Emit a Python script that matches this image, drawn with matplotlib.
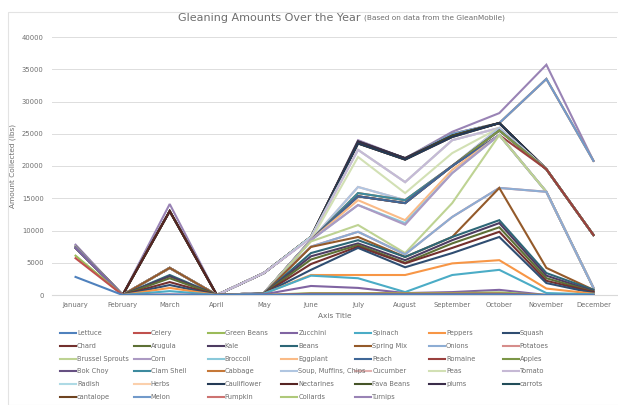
import numpy as np
import matplotlib
matplotlib.use("Agg")
import matplotlib.pyplot as plt
from matplotlib.colors import to_rgb
from matplotlib.lines import Line2D
from matplotlib.patches import Rectangle

months = ["January", "February", "March", "April", "May", "June", "July",
          "August", "September", "October", "November", "December"]

produce = ["Lettuce", "Celery", "Green Beans", "Zucchini", "Spinach", "Peppers", "Squash",
           "Chard", "Arugula", "Kale", "Beans", "Spring Mix", "Onions", "Potatoes",
           "Brussel Sprouts", "Corn", "Broccoli", "Eggplant", "Peach", "Romaine", "Apples",
           "Bok Choy", "Clam Shell", "Cabbage", "Soup, Muffins, Chips", "Cucumber", "Peas", "Tomato",
           "Radish", "Herbs", "Cauliflower", "Nectarines", "Fava Beans", "plums", "carrots",
           "cantalope", "Melon", "Pumpkin", "Collards", "Turnips"]

# stacked line values as plotted (lbs), one row per produce, Jan..Dec
stacked = [
    [2800, 0, 0, 0, 0, 100, 100, 100, 100, 100, 0, 0],
    [5700, 0, 0, 0, 0, 200, 200, 200, 200, 200, 0, 0],
    [6100, 0, 0, 0, 0, 300, 300, 300, 300, 400, 0, 0],
    [7300, 0, 100, 0, 100, 1400, 1100, 300, 450, 800, 0, 0],
    [7300, 0, 600, 0, 200, 3000, 2600, 450, 3100, 3900, 300, 100],
    [7300, 0, 1100, 0, 200, 3100, 3100, 3100, 4900, 5400, 1000, 200],
    [7300, 0, 1550, 0, 200, 3900, 7300, 4300, 6500, 9000, 1850, 300],
    [7300, 0, 2000, 0, 200, 4800, 7500, 4900, 7300, 9800, 2200, 450],
    [7300, 0, 2600, 0, 200, 5500, 7750, 5000, 8000, 10500, 2600, 500],
    [7300, 0, 2900, 0, 200, 6000, 8000, 5400, 8500, 11150, 3000, 600],
    [7300, 0, 3100, 0, 200, 6500, 8500, 5900, 9000, 11600, 3400, 800],
    [7300, 0, 4200, 0, 200, 7450, 9000, 5900, 9000, 16600, 4200, 800],
    [7300, 0, 4200, 0, 300, 7500, 9800, 6300, 12100, 16600, 16000, 1100],
    [7300, 0, 4200, 0, 300, 7500, 9800, 6300, 12100, 16600, 16000, 1100],
    [7300, 0, 4200, 0, 300, 8300, 10850, 6500, 14250, 24800, 16000, 1100],
    [7400, 0, 4200, 0, 300, 8500, 13950, 10900, 18900, 24800, 16000, 1100],
    [7400, 0, 4200, 0, 300, 8500, 13950, 11150, 18900, 24800, 16000, 1100],
    [7400, 0, 4200, 0, 300, 8500, 14700, 11600, 19400, 24800, 16000, 1100],
    [7400, 0, 4200, 0, 300, 8500, 15300, 14250, 20000, 24800, 16000, 1100],
    [7400, 0, 4200, 0, 300, 8500, 15300, 14250, 20000, 24800, 19500, 9300],
    [7400, 0, 4200, 0, 300, 8500, 15300, 14250, 20000, 25500, 19500, 9300],
    [7400, 0, 4200, 0, 300, 8500, 15300, 14250, 20000, 25500, 19500, 9300],
    [7400, 0, 4200, 0, 300, 8500, 15800, 14700, 20000, 25500, 19500, 9300],
    [7400, 0, 4200, 0, 300, 8500, 15800, 14700, 20000, 25500, 19500, 9300],
    [7400, 0, 4200, 0, 300, 8500, 16750, 14700, 20000, 25900, 19500, 9300],
    [7400, 0, 4200, 0, 300, 8500, 16750, 14700, 20000, 25900, 19500, 9300],
    [7400, 0, 4200, 0, 300, 8500, 21400, 15800, 22000, 25900, 19500, 9300],
    [7500, 0, 4200, 0, 3400, 8800, 22500, 17500, 24000, 25900, 19500, 9300],
    [7500, 0, 4200, 0, 3400, 9000, 22500, 17500, 24000, 25900, 19500, 9300],
    [7500, 0, 4200, 0, 3400, 9000, 22500, 17500, 24000, 25900, 19500, 9300],
    [7500, 0, 4200, 0, 3400, 9000, 23500, 21000, 24500, 26650, 19500, 9300],
    [7500, 0, 13000, 0, 3400, 9000, 23500, 21000, 24500, 26650, 19500, 9300],
    [7500, 0, 13000, 0, 3400, 9000, 23500, 21000, 24700, 26650, 19500, 9300],
    [7500, 0, 13000, 0, 3400, 9000, 23800, 21200, 24700, 26650, 19500, 9300],
    [7500, 0, 13000, 0, 3400, 9000, 23800, 21200, 24700, 26650, 19500, 9300],
    [7500, 0, 13000, 0, 3400, 9000, 23800, 21200, 24700, 26650, 19500, 9300],
    [7500, 0, 13000, 0, 3400, 9000, 23800, 21200, 25000, 26650, 33500, 20800],
    [7500, 0, 13000, 0, 3400, 9000, 23800, 21200, 25000, 26650, 33500, 20800],
    [7500, 0, 13000, 0, 3400, 9000, 23800, 21200, 25000, 26650, 33500, 20800],
    [7800, 0, 14100, 0, 3400, 9000, 24000, 21200, 25300, 28200, 35700, 20800],
]

# office 2007 style series colours, repeated with darker / lighter variants
base = ["#4F81BD", "#C0504D", "#9BBB59", "#8064A2", "#4BACC6", "#F79646"]
variants = [("shade", 1.0), ("shade", 0.6), ("tint", 0.35), ("shade", 0.8),
            ("tint", 0.55), ("shade", 0.45), ("tint", 0.2)]


def series_color(i):
    kind, f = variants[i // 6]
    rgb = np.array(to_rgb(base[i % 6]))
    if kind == "shade":
        return tuple(rgb * f)
    return tuple(rgb + (1 - rgb) * f)


W, H = 618, 405
TXT = "#6E6E6E"
fig = plt.figure(figsize=(W / 100, H / 100), dpi=100)
ax = fig.add_axes([52 / W, 1 - 295 / H, 565 / W, 258 / H])

x = np.arange(len(months))
for i, (name, vals) in enumerate(zip(produce, stacked)):
    ax.plot(x, vals, color=series_color(i), lw=1.5, zorder=100 - i,
            solid_joinstyle="miter")

ax.set_xlim(-0.5, len(months) - 0.5)
ax.set_ylim(0, 40000)
ax.set_yticks(np.arange(0, 40001, 5000))
ax.set_xticks(x)
ax.set_xticklabels(months)
ax.tick_params(length=0, labelsize=4.9, colors=TXT)
ax.tick_params(axis="y", pad=6)
ax.tick_params(axis="x", pad=5)
ax.grid(axis="y", color="#DDDDDD", lw=0.7)
ax.set_axisbelow(True)
for s in ["top", "right", "left"]:
    ax.spines[s].set_visible(False)
ax.spines["bottom"].set_color("#D9D9D9")

ax.set_ylabel("Amount Collected (lbs)", fontsize=5.3, color=TXT, labelpad=4)
ax.set_xlabel("Axis Title", fontsize=5.3, color=TXT, labelpad=4)

# title in two sizes
fig.text(178 / W, 1 - 18 / H, "Gleaning Amounts Over the Year", fontsize=8,
         color=TXT, va="center", ha="left")
fig.text(364 / W, 1 - 18 / H, "(Based on data from the GleanMobile)", fontsize=5.3,
         color=TXT, va="center", ha="left")

# chart frame
fig.add_artist(Rectangle((8 / W, 0), 1, 1 - 12 / H, transform=fig.transFigure,
                         fill=False, edgecolor="#E3E3E3", lw=0.8))

# legend laid out row by row like excel
for i, name in enumerate(produce):
    r, c = divmod(i, 7)
    x0 = (60 + c * 73.8) / W
    y0 = 1 - (333 + r * 12.8) / H
    fig.add_artist(Line2D([x0, x0 + 16 / W], [y0, y0], color=series_color(i),
                          lw=1.5, transform=fig.transFigure))
    fig.text(x0 + 17 / W, y0, name, fontsize=4.8, color=TXT,
             va="center", ha="left")

fig.savefig("out.png", dpi=100)
